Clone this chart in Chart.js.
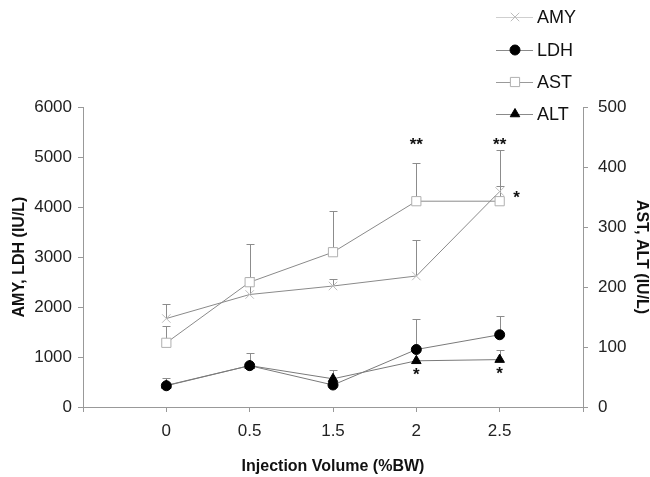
<!DOCTYPE html>
<html>
<head>
<meta charset="utf-8">
<script src="https://cdn.jsdelivr.net/npm/chart.js@4/dist/chart.umd.min.js"></script>
<style>
html,body{margin:0;padding:0;background:#fff;}
#wrap{width:650px;height:477px;position:relative;}
</style>
</head>
<body>
<div id="wrap"><canvas id="c" width="650" height="477"></canvas></div>
<script>
// ---- data ----
const categories = ['0', '0.5', '1.5', '2', '2.5'];
const xTitle = 'Injection Volume (%BW)';
const leftTitle = 'AMY, LDH (IU/L)';
const rightTitle = 'AST, ALT (IU/L)';
const seriesNames = ['AMY', 'LDH', 'AST', 'ALT'];

const amyMean  = [1770, 2250, 2420, 2620, 4310];
const amyUpper = [2055, 2610, 2555, 3335, 4415];
const ldhMean  = [425, 827, 440, 1150, 1445];
const ldhUpper = [573, 1090, null, 1765, 1815];
const astMean  = [107, 208, 258, 343, 343];
const astUpper = [135, 272, 326, 406, 428];
const altMean  = [36, 69, 47, 77, 79];
const altUpper = [null, null, 61, null, 95];

// significance marks: [series index, category index, text, placement]
const sigMarks = [
  [2, 3, '**', 'above'],
  [2, 4, '**', 'above'],
  [0, 4, '*', 'right'],
  [3, 3, '*', 'below'],
  [3, 4, '*', 'below']
];

const toPts = arr => arr.map((v, i) => ({x: i, y: v}));
const FONT = "'Liberation Sans', Arial, sans-serif";

const datasets = [
  {label: seriesNames[0], data: toPts(amyMean), upper: amyUpper, yAxisID: 'yL',
   borderColor: '#8a8a8a', borderWidth: 1, pointStyle: 'crossRot', pointRadius: 6,
   pointBorderColor: '#bdbdbd', pointBackgroundColor: '#bdbdbd', pointBorderWidth: 1, legendLine: '#cfcfcf'},
  {label: seriesNames[1], data: toPts(ldhMean), upper: ldhUpper, yAxisID: 'yL',
   borderColor: '#7a7a7a', borderWidth: 1, pointStyle: 'circle', pointRadius: 5,
   pointBorderColor: '#000', pointBackgroundColor: '#000', pointBorderWidth: 1, legendLine: '#8a8a8a'},
  {label: seriesNames[2], data: toPts(astMean), upper: astUpper, yAxisID: 'yR',
   borderColor: '#8a8a8a', borderWidth: 1, pointStyle: 'rect', pointRadius: 6.5,
   pointBorderColor: '#b0b0b0', pointBackgroundColor: '#fff', pointBorderWidth: 1, legendLine: '#9a9a9a'},
  {label: seriesNames[3], data: toPts(altMean), upper: altUpper, yAxisID: 'yR',
   borderColor: '#7a7a7a', borderWidth: 1, pointStyle: 'triangle', pointRadius: 5.5,
   pointBorderColor: '#000', pointBackgroundColor: '#000', pointBorderWidth: 1, legendLine: '#8a8a8a'}
];
datasets.forEach(d => { d.fill = false; d.tension = 0; d.pointHoverRadius = d.pointRadius; });

const errorBars = {
  id: 'errorBars',
  beforeDatasetsDraw(chart) {
    const ctx = chart.ctx;
    const xs = chart.scales.x;
    ctx.save();
    ctx.strokeStyle = '#8c8c8c';
    ctx.lineWidth = 1;
    chart.data.datasets.forEach(ds => {
      const ys = chart.scales[ds.yAxisID];
      ds.data.forEach((p, i) => {
        const up = ds.upper[i];
        if (up == null) return;
        const x = Math.round(xs.getPixelForValue(p.x)) + 0.5;
        const y0 = ys.getPixelForValue(p.y);
        const y1 = Math.round(ys.getPixelForValue(up)) + 0.5;
        ctx.beginPath();
        ctx.moveTo(x, y0); ctx.lineTo(x, y1);
        ctx.moveTo(x - 4, y1); ctx.lineTo(x + 4, y1);
        ctx.stroke();
      });
    });
    ctx.restore();
  }
};

const decorations = {
  id: 'decorations',
  afterDraw(chart) {
    const ctx = chart.ctx;
    const ca = chart.chartArea;
    const xs = chart.scales.x;
    ctx.save();
    ctx.fillStyle = '#111';
    // axis titles
    ctx.font = 'bold 16px ' + FONT;
    ctx.textAlign = 'center';
    ctx.textBaseline = 'middle';
    ctx.fillText(xTitle, (ca.left + ca.right) / 2, 467);
    ctx.save();
    ctx.translate(20, (ca.top + ca.bottom) / 2);
    ctx.rotate(-Math.PI / 2);
    ctx.fillText(leftTitle, 0, 0);
    ctx.restore();
    ctx.save();
    ctx.translate(641, (ca.top + ca.bottom) / 2);
    ctx.rotate(Math.PI / 2);
    ctx.fillText(rightTitle, 0, 0);
    ctx.restore();

    // significance marks (one shared row for the "above" marks)
    let aboveRow = Infinity;
    sigMarks.forEach(([si, ci, txt, where]) => {
      if (where !== 'above') return;
      const ds = chart.data.datasets[si];
      const v = ds.upper[ci] != null ? ds.upper[ci] : ds.data[ci].y;
      aboveRow = Math.min(aboveRow, chart.scales[ds.yAxisID].getPixelForValue(v));
    });
    ctx.font = 'bold 17px ' + FONT;
    ctx.textBaseline = 'alphabetic';
    ctx.textAlign = 'center';
    sigMarks.forEach(([si, ci, txt, where]) => {
      const ds = chart.data.datasets[si];
      const ys = chart.scales[ds.yAxisID];
      const x = xs.getPixelForValue(ci);
      let cx = x, cy;
      if (where === 'above') {
        cy = aboveRow - 10;
      } else if (where === 'below') {
        cy = ys.getPixelForValue(ds.data[ci].y) + 9;
      } else {
        cx = x + 17;
        cy = ys.getPixelForValue(ds.data[ci].y) + 1;
      }
      ctx.fillText(txt, cx, cy + 10);
    });

    // legend
    const rows = [17, 50, 82, 114];
    ctx.font = '18px ' + FONT;
    ctx.textAlign = 'left';
    ctx.textBaseline = 'middle';
    chart.data.datasets.forEach((ds, i) => {
      const y = rows[i];
      ctx.strokeStyle = ds.legendLine;
      ctx.lineWidth = 1;
      ctx.beginPath();
      ctx.moveTo(496, y + 0.5); ctx.lineTo(533, y + 0.5);
      ctx.stroke();
      ctx.fillStyle = ds.pointBackgroundColor;
      ctx.strokeStyle = ds.pointBorderColor;
      Chart.helpers.drawPoint(ctx, {pointStyle: ds.pointStyle, radius: ds.pointRadius, borderWidth: 1, rotation: 0}, 515, y);
      ctx.fillStyle = '#111';
      ctx.fillText(ds.label, 537, y + 1);
    });
    ctx.restore();
  }
};

const tickFont = {family: FONT, size: 17};
new Chart(document.getElementById('c'), {
  type: 'line',
  data: {datasets},
  options: {
    responsive: false,
    devicePixelRatio: 1,
    animation: false,
    layout: {padding: {top: 107, left: 0, right: 0, bottom: 0}},
    plugins: {legend: {display: false}, tooltip: {enabled: false}},
    scales: {
      x: {
        type: 'linear', min: -1, max: 5,
        afterFit: s => { s.height = 70; },
        afterBuildTicks: s => { s.ticks = [-1, 0, 1, 2, 3, 4, 5].map(v => ({value: v})); },
        ticks: {callback: v => (categories[v] !== undefined ? categories[v] : ''), font: tickFont, color: '#222', padding: 9, maxRotation: 0, autoSkip: false},
        grid: {drawOnChartArea: false, drawTicks: true, tickLength: 5, color: '#999'},
        border: {display: true, color: '#999'}
      },
      yL: {
        position: 'left', min: 0, max: 6000,
        afterFit: s => { s.width = 83; },
        ticks: {stepSize: 1000, font: tickFont, color: '#222', padding: 6, callback: v => String(v)},
        grid: {drawOnChartArea: false, drawTicks: true, tickLength: 5, color: '#999'},
        border: {display: true, color: '#999'}
      },
      yR: {
        position: 'right', min: 0, max: 500,
        afterFit: s => { s.width = 67; },
        ticks: {stepSize: 100, font: tickFont, color: '#222', padding: 10, callback: v => String(v)},
        grid: {drawOnChartArea: false, drawTicks: true, tickLength: 5, color: '#999'},
        border: {display: true, color: '#999'}
      }
    }
  },
  plugins: [errorBars, decorations]
});
</script>
</body>
</html>
